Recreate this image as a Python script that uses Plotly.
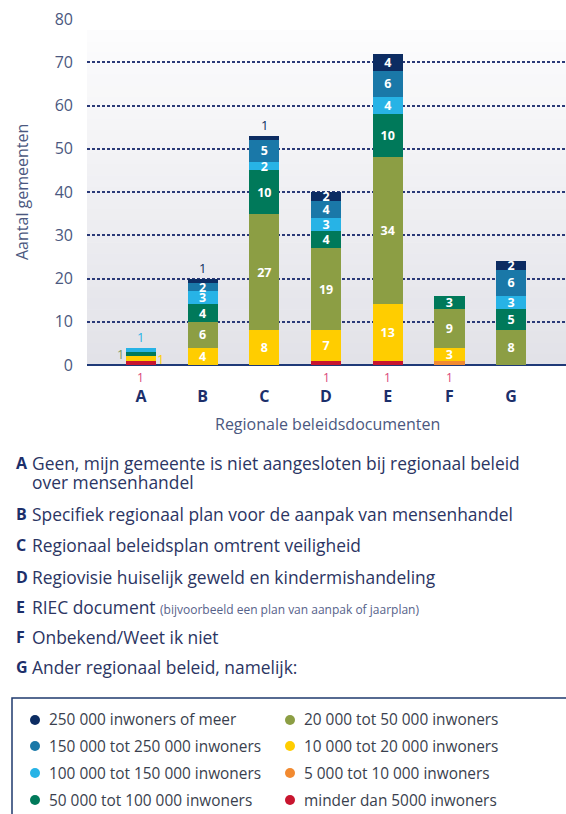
import plotly.graph_objects as go

# ---------------- data ----------------
categories = ["A", "B", "C", "D", "E", "F", "G"]

series_names = [
    "minder dan 5000 inwoners",
    "5 000 tot 10 000 inwoners",
    "10 000 tot 20 000 inwoners",
    "20 000 tot 50 000 inwoners",
    "50 000 tot 100 000 inwoners",
    "100 000 tot 150 000 inwoners",
    "150 000 tot 250 000 inwoners",
    "250 000 inwoners of meer",
]
series_colors = ["#c8152f", "#f28a30", "#ffcd00", "#8c9e44",
                 "#00795a", "#27b3e6", "#1a78a8", "#0c2c62"]

v_lt5k     = [1, 0, 0, 1, 1, 0, 0]
v_5k10k    = [0, 0, 0, 0, 0, 1, 0]
v_10k20k   = [1, 4, 8, 7, 13, 3, 0]
v_20k50k   = [0, 6, 27, 19, 34, 9, 8]
v_50k100k  = [1, 4, 10, 4, 10, 3, 5]
v_100k150k = [1, 3, 2, 3, 4, 0, 3]
v_150k250k = [0, 2, 5, 4, 6, 0, 6]
v_250k     = [0, 1, 1, 2, 4, 0, 2]
series_values = [v_lt5k, v_5k10k, v_10k20k, v_20k50k,
                 v_50k100k, v_100k150k, v_150k250k, v_250k]

y_ticks = [0, 10, 20, 30, 40, 50, 60, 70, 80]
y_title = "Aantal gemeenten"
x_title = "Regionale beleidsdocumenten"

descriptions = [
    ("A", "Geen, mijn gemeente is niet aangesloten bij regionaal beleid", None),
    ("", "over mensenhandel", None),
    ("B", "Specifiek regionaal plan voor de aanpak van mensenhandel", None),
    ("C", "Regionaal beleidsplan omtrent veiligheid", None),
    ("D", "Regiovisie huiselijk geweld en kindermishandeling", None),
    ("E", "RIEC document", "(bijvoorbeeld een plan van aanpak of jaarplan)"),
    ("F", "Onbekend/Weet ik niet", None),
    ("G", "Ander regionaal beleid, namelijk:", None),
]
legend_order = [7, 6, 5, 4, 3, 2, 1, 0]  # col 1 then col 2

# ---------------- layout geometry ----------------
W, H = 566, 814
ML, MR, MT = 87, 0, 19
PH = 346
PW = W - ML - MR
MB = H - MT - PH
FONT = "Open Sans, Liberation Sans, Arial, sans-serif"
NAVY = "#1c2f6b"
GREYBLUE = "#4b5880"


def px(x):
    return (x - ML) / PW


def py(y):
    return (MT + PH - y) / PH


fig = go.Figure()

for name, color, vals in zip(series_names, series_colors, series_values):
    fig.add_trace(go.Bar(
        x=categories, y=vals, name=name,
        marker=dict(color=color, line=dict(width=0)),
        text=[str(v) if v >= 2 else "" for v in vals],
        textposition="inside", insidetextanchor="middle",
        constraintext="none", textangle=0,
        textfont=dict(color="white", size=12.5, family=FONT, weight="bold"),
        hoverinfo="x+y+name", showlegend=False, cliponaxis=False,
    ))

# outside labels for segments of value 1
annotations = []
for ci, cat in enumerate(categories):
    cum = 0
    total = sum(s[ci] for s in series_values)
    side = 1
    for si, vals in enumerate(series_values):
        v = vals[ci]
        if v == 0:
            continue
        if v == 1:
            if si <= 1:
                annotations.append(dict(x=cat, y=0, yshift=-12, text="1",
                                        showarrow=False,
                                        font=dict(color="#d9477a", size=12, family=FONT)))
            elif cum + v == total:
                annotations.append(dict(x=cat, y=total, yshift=11, text="1",
                                        showarrow=False,
                                        font=dict(color=series_colors[si], size=13, family=FONT)))
            else:
                annotations.append(dict(x=cat, y=cum + v / 2, xshift=side * 20, text="1",
                                        showarrow=False,
                                        font=dict(color=series_colors[si] if si != 4 else "#7f9a5e",
                                                  size=13, family=FONT)))
                side = -side
        cum += v

# axis titles
annotations.append(dict(xref="paper", yref="paper", x=px(22), y=py(192),
                        xanchor="center", yanchor="middle",
                        text=y_title, textangle=-90, showarrow=False,
                        font=dict(size=16, color=GREYBLUE, family=FONT)))
annotations.append(dict(xref="paper", yref="paper", x=px(327), y=py(424),
                        xanchor="center", yanchor="middle",
                        text=x_title, showarrow=False,
                        font=dict(size=16, color=GREYBLUE, family=FONT)))

# description list
desc_y = [463, 482, 514, 545, 577, 607, 637, 667]
for (letter, txt, extra), yy in zip(descriptions, desc_y):
    if letter:
        annotations.append(dict(xref="paper", yref="paper", x=px(14), y=py(yy),
                                xanchor="left", yanchor="middle", text="<b>" + letter + "</b>",
                                showarrow=False, font=dict(size=16, color=NAVY, family=FONT)))
    t = txt
    if extra:
        t += " <span style='font-size:12px;color:#56628a'>" + extra + "</span>"
    annotations.append(dict(xref="paper", yref="paper", x=px(30), y=py(yy),
                            xanchor="left", yanchor="middle", text=t,
                            showarrow=False, font=dict(size=17.4, color="#2b3563", family=FONT)))

# legend (drawn as shapes + text)
shapes = []
col_x = [35, 290]
row_y = [720, 746, 773, 800]
for k, si in enumerate(legend_order):
    cx = col_x[k // 4]
    cy = row_y[k % 4]
    shapes.append(dict(type="circle", xref="paper", yref="paper",
                       x0=px(cx - 5), x1=px(cx + 5), y0=py(cy + 5), y1=py(cy - 5),
                       fillcolor=series_colors[si], line=dict(width=0)))
    annotations.append(dict(xref="paper", yref="paper", x=px(cx + 12), y=py(cy),
                            xanchor="left", yanchor="middle", text=series_names[si],
                            showarrow=False, font=dict(size=15.4, color="#3a3f4e", family=FONT)))
shapes.append(dict(type="rect", xref="paper", yref="paper",
                   x0=px(12), x1=px(600), y0=py(840), y1=py(698),
                   line=dict(color="#1f3a6e", width=1.5), fillcolor="rgba(0,0,0,0)"))

# gradient background
n_bands = 30
top_px, bot_px = 30, 365
c0, c1 = (252, 252, 253), (226, 226, 232)
for i in range(n_bands):
    f = i / (n_bands - 1)
    col = tuple(round(c0[j] + (c1[j] - c0[j]) * f) for j in range(3))
    y0 = top_px + (bot_px - top_px) * i / n_bands
    y1 = top_px + (bot_px - top_px) * (i + 1) / n_bands
    shapes.append(dict(type="rect", xref="paper", yref="paper", layer="below",
                       x0=0, x1=1, y0=py(y1 + 0.5), y1=py(y0),
                       fillcolor="rgb(%d,%d,%d)" % col, line=dict(width=0)))

fig.update_layout(
    width=W, height=H,
    margin=dict(l=ML, r=MR, t=MT, b=MB, pad=0),
    barmode="stack", bargap=0.51,
    paper_bgcolor="white", plot_bgcolor="white",
    font=dict(family=FONT),
    showlegend=False,
    annotations=annotations, shapes=shapes,
    xaxis=dict(range=[-0.875, 6.89], showgrid=False, showline=False, zeroline=False,
               ticks="", ticklabelstandoff=20,
               tickfont=dict(size=16, color=NAVY, family=FONT, weight="bold"),
               fixedrange=True),
    yaxis=dict(range=[0, 80], tickvals=y_ticks, showgrid=True,
               gridcolor="#2b3a78", gridwidth=1.6, griddash="3px,2px",
               zeroline=True, zerolinecolor="#1f3a78", zerolinewidth=2,
               showline=False, ticks="", ticklabelstandoff=13,
               tickfont=dict(size=16, color=GREYBLUE, family=FONT),
               fixedrange=True),
)

fig.write_html("out.html", config={"displayModeBar": False},
               post_script="document.body.style.margin='0';document.body.style.padding='0';")
